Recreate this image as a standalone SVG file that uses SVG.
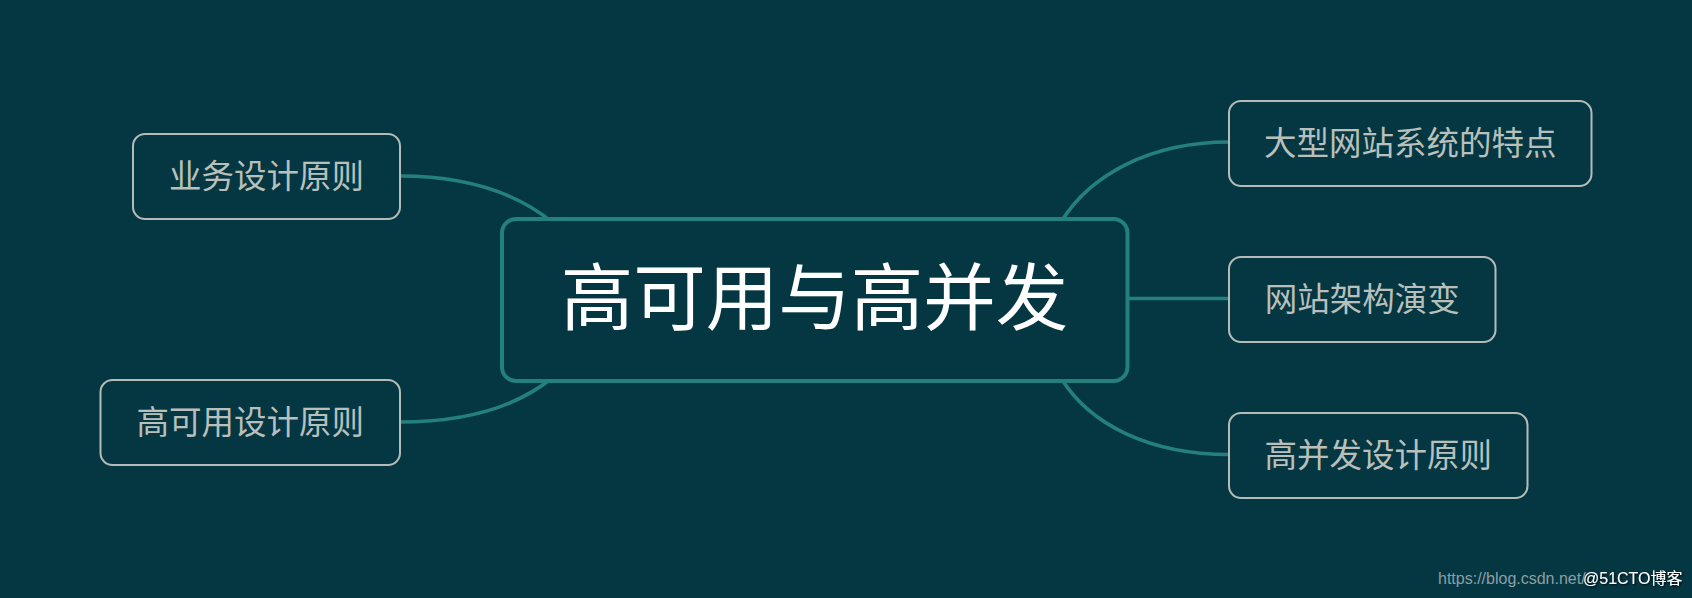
<svg xmlns="http://www.w3.org/2000/svg" width="1692" height="598" viewBox="0 0 1692 598">
<style>
.bg{fill:#053743}
.child rect{fill:#053743;stroke:#b5bcb8;stroke-width:2}
.child text{font-family:"Noto Sans CJK SC","Noto Sans",sans-serif;font-size:32.5px;fill:#b9c0bc;text-anchor:middle}
.root rect{fill:#053743;stroke:#23807b;stroke-width:4}
.root text{font-family:"Noto Sans CJK SC","Noto Sans",sans-serif;font-size:72.5px;fill:#ffffff;text-anchor:middle}
.conn path{fill:none;stroke:#23807b;stroke-width:3.6}
.wm1{font-family:"Liberation Sans",Arial,sans-serif;font-size:16px;fill:#8e9ea2}
.wm2{font-family:"Liberation Sans","Noto Sans CJK SC",sans-serif;font-size:16px;fill:#ffffff}
</style>
<defs>
<filter id="sh" x="-10%" y="-40%" width="120%" height="180%">
<feDropShadow dx="1" dy="1" stdDeviation="0.8" flood-color="#000000" flood-opacity="0.9"/>
</filter>
</defs>
<rect class="bg" x="0" y="0" width="1692" height="598"/>
<g id="connectors" class="conn">
<path d="M400,176 C465,176 515,192 552,222"/>
<path d="M400,422 C465,422 515,408 552,378"/>
<path d="M1061,222 C1090,175 1150,142 1229,142"/>
<path d="M1128,298.5 L1229,298.5"/>
<path d="M1061,378 C1090,425 1150,454.5 1229,454.5"/>
</g>
<g id="root" class="root">
<rect x="502" y="219" width="625.5" height="162" rx="14" ry="14"/>
<text x="814.5" y="324">高可用与高并发</text>
</g>
<g id="n-yewu" class="child">
<rect x="133" y="134" width="267" height="85" rx="12" ry="12"/>
<text x="266.5" y="188">业务设计原则</text>
</g>
<g id="n-gaokeyong" class="child">
<rect x="100.5" y="380" width="299.5" height="85" rx="12" ry="12"/>
<text x="250.2" y="434">高可用设计原则</text>
</g>
<g id="n-tedian" class="child">
<rect x="1229" y="101" width="362.5" height="85" rx="12" ry="12"/>
<text x="1410.2" y="154.5">大型网站系统的特点</text>
</g>
<g id="n-yanbian" class="child">
<rect x="1229" y="257" width="266.5" height="85" rx="12" ry="12"/>
<text x="1362.2" y="310.5">网站架构演变</text>
</g>
<g id="n-gaobingfa" class="child">
<rect x="1229" y="413" width="298.5" height="85" rx="12" ry="12"/>
<text x="1378.2" y="466.5">高并发设计原则</text>
</g>
<g id="watermark">
<text class="wm1" x="1438" y="584">https://blog.csdn.net/</text>
<text class="wm2" x="1583" y="584" filter="url(#sh)">@51CTO博客</text>
</g>
</svg>
